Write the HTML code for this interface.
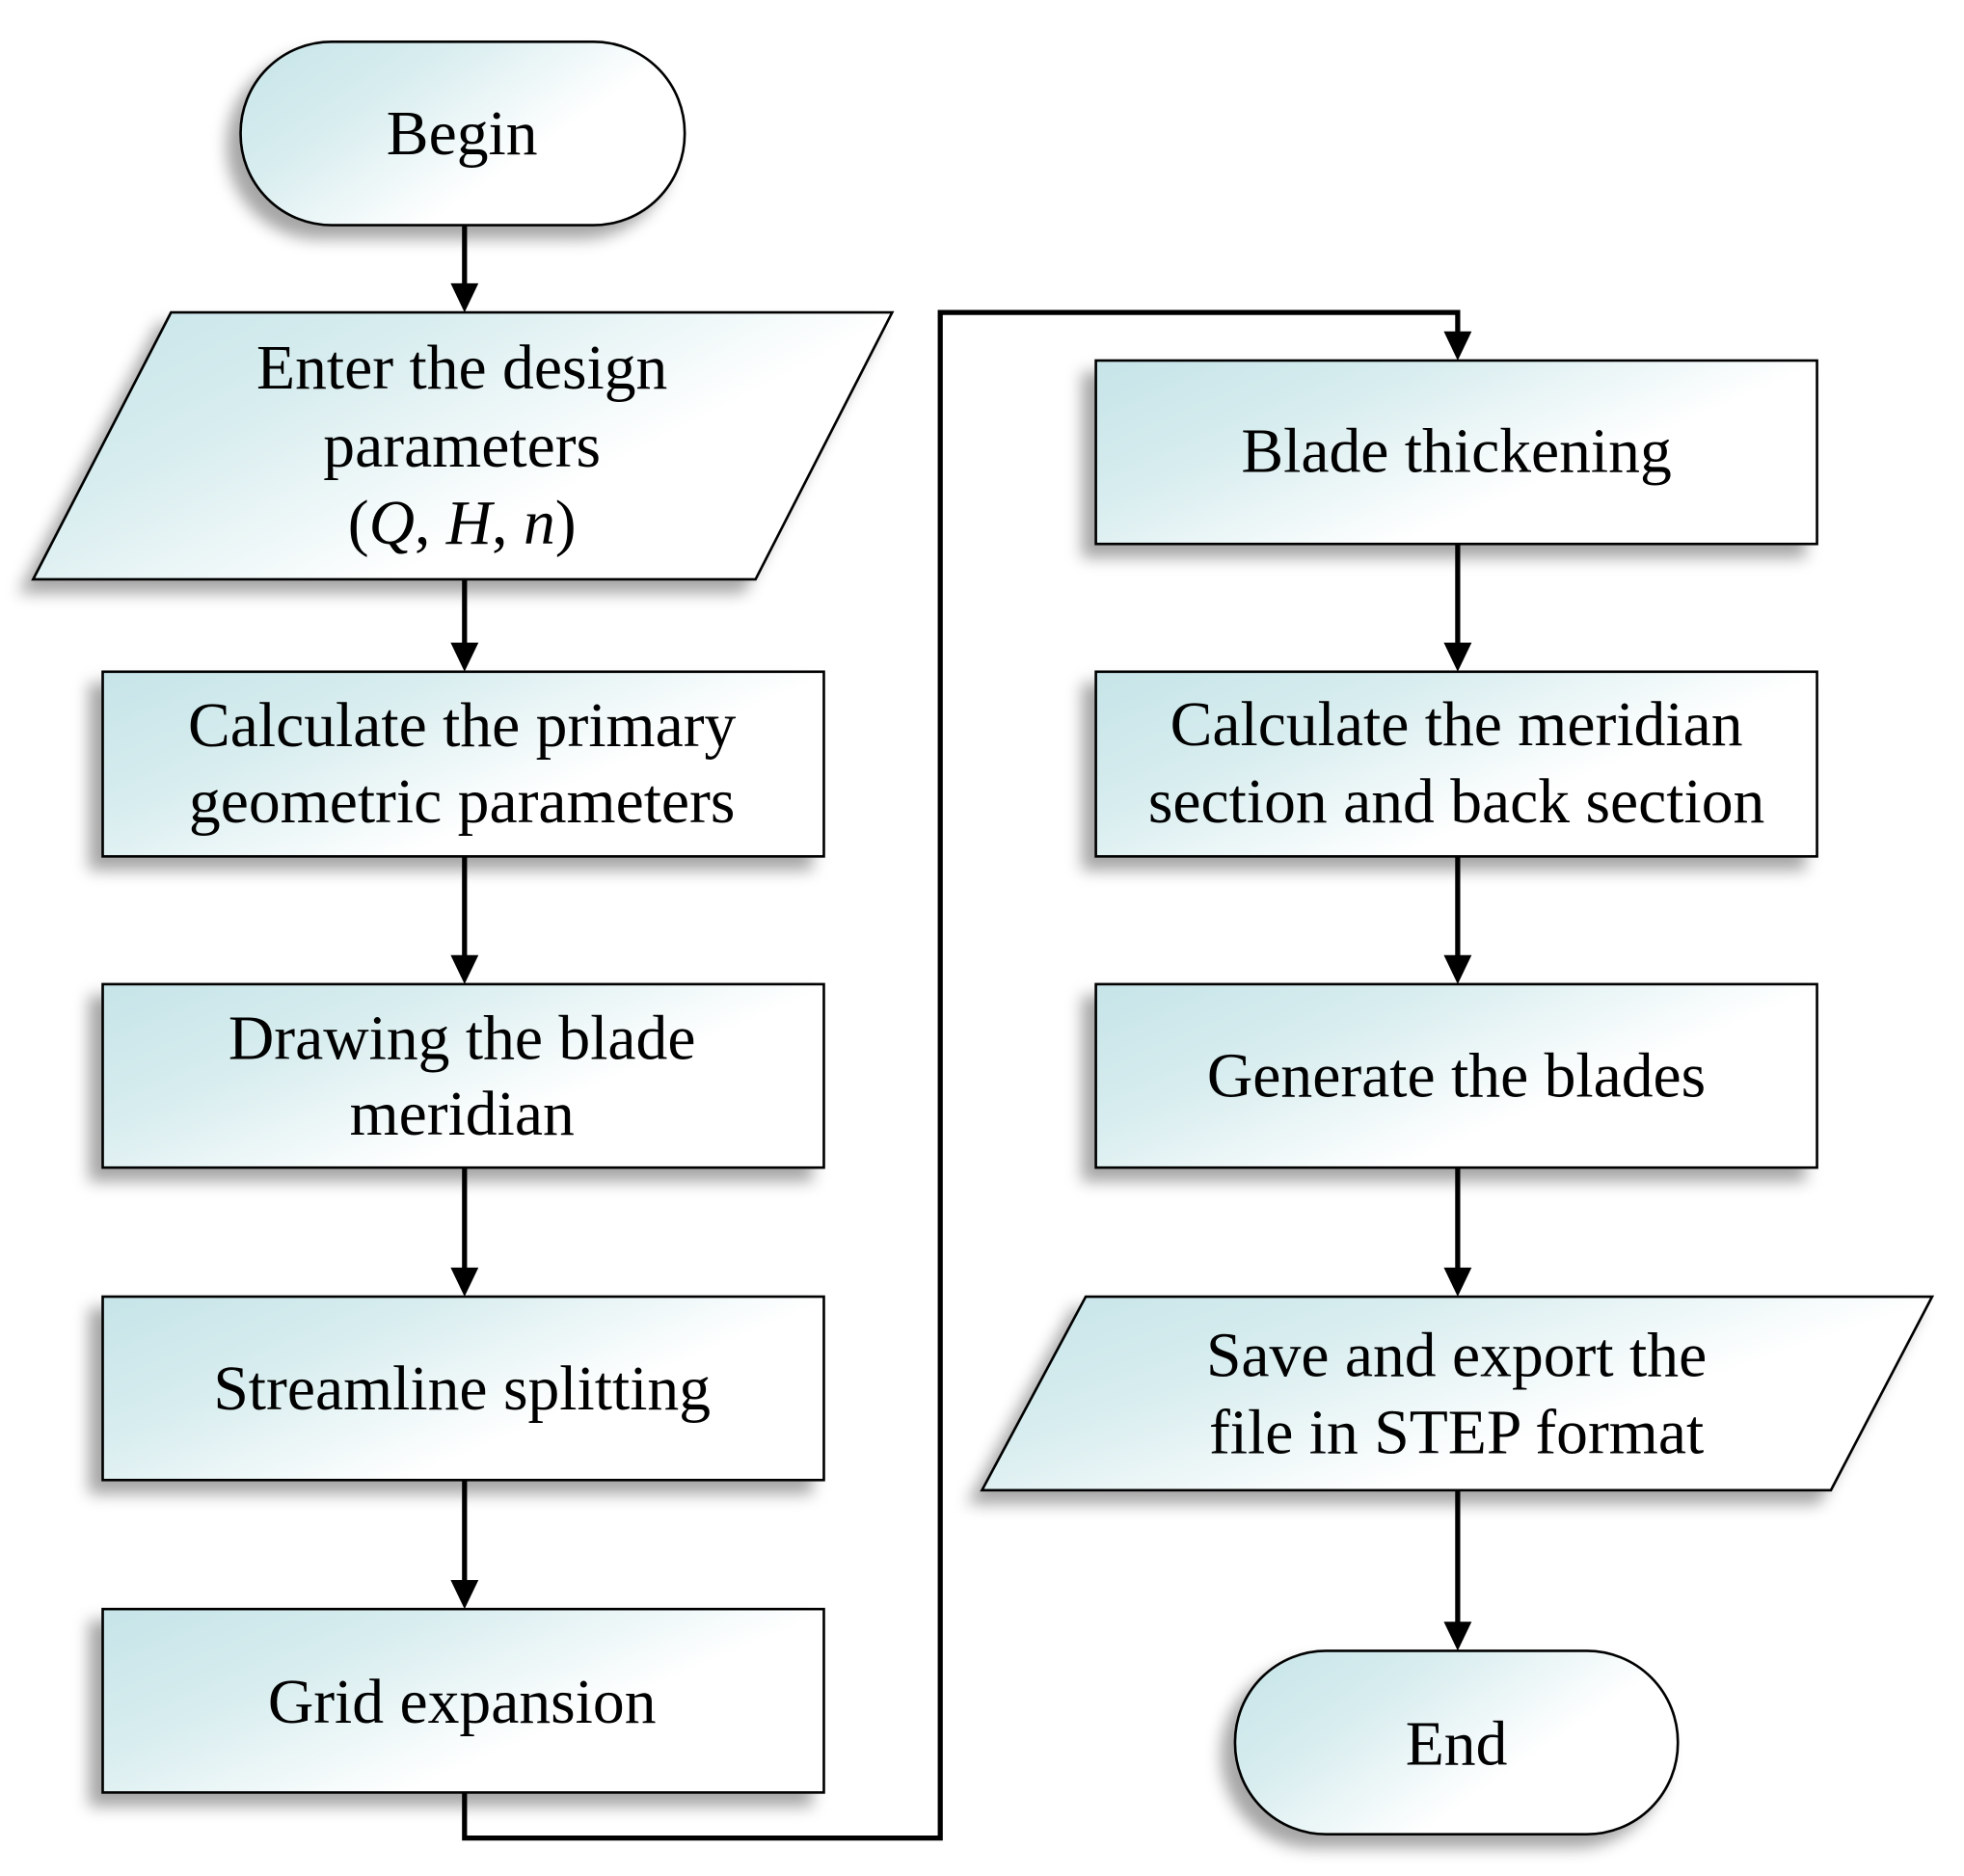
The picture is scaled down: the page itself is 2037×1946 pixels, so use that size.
<!DOCTYPE html>
<html><head><meta charset="utf-8"><style>html,body{margin:0;padding:0;background:#fff}svg{display:block}</style></head>
<body>
<svg width="2037" height="1946" viewBox="0 0 1552 1483" xmlns="http://www.w3.org/2000/svg">
<defs>
<linearGradient id="g" x1="0" y1="0" x2="1" y2="0.6">
<stop offset="0" stop-color="#c6e4e8"/><stop offset="0.35" stop-color="#d8edef"/><stop offset="0.75" stop-color="#ffffff"/><stop offset="1" stop-color="#ffffff"/>
</linearGradient>
<filter id="sh" x="-20%" y="-20%" width="140%" height="150%">
<feDropShadow dx="-10" dy="10" stdDeviation="6" flood-color="#000" flood-opacity="0.35"/>
</filter>
<marker id="a" markerWidth="10" markerHeight="10" refX="9" refY="5" orient="auto" markerUnits="userSpaceOnUse" viewBox="0 0 10 10">
</marker>
</defs>
<g fill="url(#g)" stroke="#000" stroke-width="2" filter="url(#sh)">
<rect x="190" y="33" width="351" height="145" rx="72" ry="72"/>
<polygon points="135,247 705,247 597,458 26,458"/>
<rect x="81" y="531" width="570" height="146"/>
<rect x="81" y="778" width="570" height="145"/>
<rect x="81" y="1025" width="570" height="145"/>
<rect x="81" y="1272" width="570" height="145"/>
<rect x="866" y="285" width="570" height="145"/>
<rect x="866" y="531" width="570" height="146"/>
<rect x="866" y="778" width="570" height="145"/>
<polygon points="858,1025 1527,1025 1447,1178 776,1178"/>
<rect x="976" y="1305" width="350" height="145" rx="72" ry="72"/>
</g>
<g stroke="#000" stroke-width="4" fill="none">
<line x1="367" y1="178" x2="367" y2="228"/>
<line x1="367" y1="458" x2="367" y2="512"/>
<line x1="367" y1="677" x2="367" y2="759"/>
<line x1="367" y1="923" x2="367" y2="1006"/>
<line x1="367" y1="1170" x2="367" y2="1253"/>
<polyline points="367,1417 367,1453 743,1453 743,247 1152,247 1152,266"/>
<line x1="1152" y1="430" x2="1152" y2="512"/>
<line x1="1152" y1="677" x2="1152" y2="759"/>
<line x1="1152" y1="923" x2="1152" y2="1006"/>
<line x1="1152" y1="1178" x2="1152" y2="1286"/>
</g>
<g fill="#000">
<polygon points="356,224 378,224 367,247"/>
<polygon points="356,508 378,508 367,531"/>
<polygon points="356,755 378,755 367,778"/>
<polygon points="356,1002 378,1002 367,1025"/>
<polygon points="356,1249 378,1249 367,1272"/>
<polygon points="1141,262 1163,262 1152,285"/>
<polygon points="1141,508 1163,508 1152,531"/>
<polygon points="1141,755 1163,755 1152,778"/>
<polygon points="1141,1002 1163,1002 1152,1025"/>
<polygon points="1141,1282 1163,1282 1152,1305"/>
</g>
<g font-family="'Liberation Serif', serif" font-size="50" text-anchor="middle" fill="#000">
<text x="365" y="122">Begin</text>
<text x="365" y="307">Enter the design</text>
<text x="365" y="369">parameters</text>
<text x="365" y="430">(<tspan font-style="italic">Q</tspan>, <tspan font-style="italic">H</tspan>, <tspan font-style="italic">n</tspan>)</text>
<text x="365" y="590">Calculate the primary</text>
<text x="365" y="650">geometric parameters</text>
<text x="365" y="837">Drawing the blade</text>
<text x="365" y="897">meridian</text>
<text x="365" y="1114">Streamline splitting</text>
<text x="365" y="1362">Grid expansion</text>
<text x="1151" y="373">Blade thickening</text>
<text x="1151" y="589">Calculate the meridian</text>
<text x="1151" y="650">section and back section</text>
<text x="1151" y="867">Generate the blades</text>
<text x="1151" y="1088">Save and export the</text>
<text x="1151" y="1149">file in STEP format</text>
<text x="1151" y="1395">End</text>
</g>
</svg>
</body></html>
